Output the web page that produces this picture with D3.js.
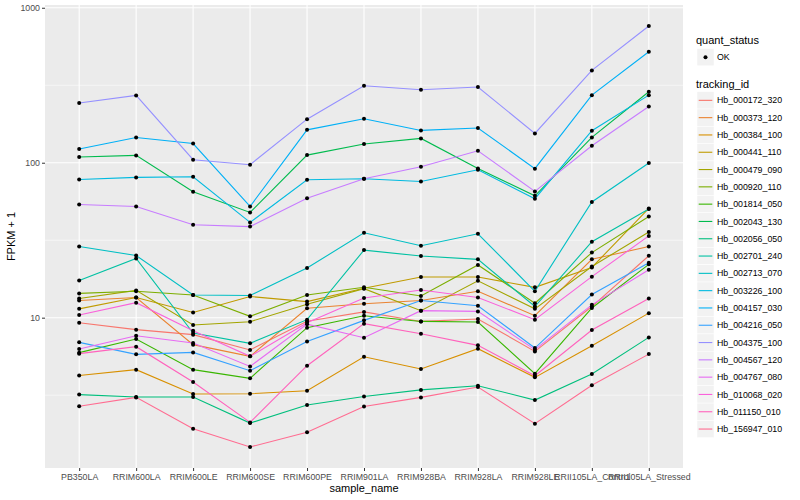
<!DOCTYPE html>
<html>
<head>
<meta charset="utf-8">
<script src="https://cdn.jsdelivr.net/npm/d3@7"></script>
<style>
  body { margin: 0; background: #fff; }
  text { font-family: "Liberation Sans", Arial, sans-serif; }
</style>
</head>
<body>
<div id="chart"></div>
<script>
// samples on the x axis
var samples = ["PB350LA", "RRIM600LA", "RRIM600LE", "RRIM600SE", "RRIM600PE", "RRIM901LA",
    "RRIM928BA", "RRIM928LA", "RRIM928LE", "RRII105LA_Control", "RRII105LA_Stressed"];

var trackingIds = ["Hb_000172_320", "Hb_000373_120", "Hb_000384_100", "Hb_000441_110",
    "Hb_000479_090", "Hb_000920_110", "Hb_001814_050", "Hb_002043_130", "Hb_002056_050",
    "Hb_002701_240", "Hb_002713_070", "Hb_003226_100", "Hb_004157_030", "Hb_004216_050",
    "Hb_004375_100", "Hb_004567_120", "Hb_004767_080", "Hb_010068_020", "Hb_011150_010",
    "Hb_156947_010"];

var quantStatus = ["OK"];

// FPKM + 1, one array per tracking id, in sample order
var hb000172_320 = [9.28, 8.37, 7.77, 6.19, 9.49, 10.9, 9.46, 9.81, 6.06, 11.8, 25.1];
var hb000373_120 = [12.9, 13.5, 6.70, 5.63, 11.5, 12.3, 12.9, 14.8, 10.3, 23.8, 28.8];
var hb000384_100 = [4.24, 4.62, 3.22, 3.23, 3.38, 5.60, 4.67, 6.31, 4.12, 6.60, 10.7];
var hb000441_110 = [11.4, 13.5, 10.8, 13.7, 12.7, 15.5, 18.3, 18.3, 15.7, 21.1, 50.7];
var hb000479_090 = [13.3, 15.0, 8.97, 9.42, 12.2, 15.4, 11.1, 17.3, 11.4, 21.4, 35.7];
var hb000920_110 = [14.35, 14.8, 14.0, 10.2, 14.0, 15.7, 13.8, 21.9, 12.4, 26.3, 45.0];
var hb001814_050 = [5.95, 7.29, 4.62, 4.06, 8.62, 10.3, 9.46, 9.38, 4.35, 11.55, 22.1];
var hb002043_130 = [108.8, 111.5, 65.0, 47.8, 112, 132, 143.5, 91.9, 61.2, 145.6, 287];
var hb002056_050 = [3.19, 3.08, 3.08, 2.09, 2.73, 3.10, 3.42, 3.64, 2.94, 4.33, 7.46];
var hb002701_240 = [17.4, 24.1, 7.96, 6.83, 9.71, 27.3, 25.0, 23.8, 11.8, 30.9, 50.3];
var hb002713_070 = [28.8, 25.2, 14.0, 13.9, 20.9, 35.3, 29.1, 34.8, 14.8, 55.8, 99.5];
var hb003226_100 = [78.0, 80.4, 81.2, 41.2, 77.7, 78.8, 75.7, 90.1, 58.6, 160.9, 273];
var hb004157_030 = [122.6, 145.6, 133, 52.2, 163, 192, 161.6, 167.5, 91.5, 273, 520];
var hb004216_050 = [6.93, 5.80, 5.97, 4.55, 7.03, 9.61, 12.9, 11.95, 6.37, 14.1, 22.6];
var hb004375_100 = [243, 272, 104.6, 97.1, 191, 314, 296, 308, 154.5, 394, 762];
var hb004567_120 = [53.8, 52.2, 39.8, 38.7, 58.9, 78.8, 94.2, 119.5, 65.3, 128.7, 230.8];
var hb004767_080 = [6.28, 7.65, 6.87, 4.85, 9.08, 7.43, 11.1, 10.98, 6.22, 12.1, 20.4];
var hb010068_020 = [10.4, 12.5, 8.25, 5.63, 9.28, 13.4, 15.1, 13.5, 9.71, 18.4, 33.7];
var hb011150_010 = [5.86, 6.50, 3.85, 2.11, 4.90, 9.15, 7.88, 6.63, 4.22, 8.33, 13.3];
var hb156947_010 = [2.68, 3.06, 1.92, 1.465, 1.82, 2.67, 3.06, 3.57, 2.07, 3.66, 5.82];

var seriesValues = [hb000172_320, hb000373_120, hb000384_100, hb000441_110, hb000479_090,
    hb000920_110, hb001814_050, hb002043_130, hb002056_050, hb002701_240, hb002713_070,
    hb003226_100, hb004157_030, hb004216_050, hb004375_100, hb004567_120, hb004767_080,
    hb010068_020, hb011150_010, hb156947_010];

var yMajorTicks = [10, 100, 1000];

// ggplot default hue palette for 20 levels
var palette = ["#F8766D", "#EA8331", "#D89000", "#C09B00", "#A3A500", "#7CAE00", "#39B600",
    "#00BB4E", "#00BF7D", "#00C1A3", "#00BFC4", "#00BAE0", "#00B0F6", "#35A2FF", "#9590FF",
    "#C77CFF", "#E76BF3", "#FA62DB", "#FF62BC", "#FF6C91"];

var width = 800, height = 500;
var panel = { left: 45, right: 683, top: 5, bottom: 468 };

var svg = d3.select("#chart").append("svg")
    .attr("width", width)
    .attr("height", height);

svg.append("rect")
    .attr("width", width)
    .attr("height", height)
    .attr("fill", "#ffffff");

// x: discrete, 0.6 step padding on each side like ggplot
var x = d3.scalePoint()
    .domain(samples)
    .range([panel.left, panel.right])
    .padding(0.6);

// y: log10 with 5% expansion of the data range
var allValues = d3.merge(seriesValues);
var lo = Math.log10(d3.min(allValues)), hi = Math.log10(d3.max(allValues));
var pad = (hi - lo) * 0.05;
var y = d3.scaleLog()
    .domain([Math.pow(10, lo - pad), Math.pow(10, hi + pad)])
    .range([panel.bottom, panel.top]);

// panel background
svg.append("rect")
    .attr("x", panel.left)
    .attr("y", panel.top)
    .attr("width", panel.right - panel.left)
    .attr("height", panel.bottom - panel.top)
    .attr("fill", "#EBEBEB");

// minor grid at half decades
var yMinor = [Math.sqrt(10), Math.sqrt(1000), Math.sqrt(100000)]
    .filter(function(v) { return v > y.domain()[0] && v < y.domain()[1]; });

svg.selectAll(".minor")
    .data(yMinor)
    .enter()
    .append("line")
    .attr("class", "minor")
    .attr("x1", panel.left)
    .attr("x2", panel.right)
    .attr("y1", function(d) { return y(d); })
    .attr("y2", function(d) { return y(d); })
    .attr("stroke", "#ffffff")
    .attr("stroke-width", 0.55);

svg.selectAll(".ymajor")
    .data(yMajorTicks)
    .enter()
    .append("line")
    .attr("class", "ymajor")
    .attr("x1", panel.left)
    .attr("x2", panel.right)
    .attr("y1", function(d) { return y(d); })
    .attr("y2", function(d) { return y(d); })
    .attr("stroke", "#ffffff")
    .attr("stroke-width", 1.1);

svg.selectAll(".xmajor")
    .data(samples)
    .enter()
    .append("line")
    .attr("class", "xmajor")
    .attr("x1", function(d) { return x(d); })
    .attr("x2", function(d) { return x(d); })
    .attr("y1", panel.top)
    .attr("y2", panel.bottom)
    .attr("stroke", "#ffffff")
    .attr("stroke-width", 1.1);

// lines
var line = d3.line()
    .x(function(d, i) { return x(samples[i]); })
    .y(function(d) { return y(d); });

svg.selectAll(".series")
    .data(seriesValues)
    .enter()
    .append("path")
    .attr("class", "series")
    .attr("d", line)
    .attr("fill", "none")
    .attr("stroke", function(d, i) { return palette[i]; })
    .attr("stroke-width", 1.1);

// points
seriesValues.forEach(function(vals) {
    svg.selectAll(null)
        .data(vals)
        .enter()
        .append("circle")
        .attr("cx", function(d, i) { return x(samples[i]); })
        .attr("cy", function(d) { return y(d); })
        .attr("r", 2)
        .attr("fill", "#000000");
});

// axes
var yAxis = svg.append("g")
    .attr("transform", "translate(" + panel.left + ",0)")
    .call(d3.axisLeft(y).tickValues(yMajorTicks).tickFormat(d3.format("d")).tickSize(3).tickPadding(2));

var xAxis = svg.append("g")
    .attr("transform", "translate(0," + panel.bottom + ")")
    .call(d3.axisBottom(x).tickSize(3).tickPadding(3));

[xAxis, yAxis].forEach(function(g) {
    g.select(".domain").remove();
    g.selectAll(".tick line").attr("stroke", "#333333").attr("stroke-width", 1);
    g.selectAll(".tick text")
        .attr("fill", "#4D4D4D")
        .style("font-size", "8.8px")
        .style("font-family", "'Liberation Sans', Arial, sans-serif");
});

svg.append("text")
    .attr("x", (panel.left + panel.right) / 2)
    .attr("y", 492)
    .attr("text-anchor", "middle")
    .style("font-size", "11px")
    .text("sample_name");

svg.append("text")
    .attr("transform", "translate(15," + ((panel.top + panel.bottom) / 2) + ") rotate(-90)")
    .attr("text-anchor", "middle")
    .style("font-size", "11px")
    .text("FPKM + 1");

// legends
var lg = svg.append("g").attr("transform", "translate(696,0)");

lg.append("text")
    .attr("x", 0)
    .attr("y", 44)
    .style("font-size", "11px")
    .text("quant_status");

lg.selectAll(".qkey")
    .data(quantStatus)
    .enter()
    .append("rect")
    .attr("class", "qkey")
    .attr("x", 1)
    .attr("y", function(d, i) { return 48.5 + i * 17.3; })
    .attr("width", 17)
    .attr("height", 17.3)
    .attr("fill", "#F2F2F2")
    .attr("stroke", "#ffffff")
    .attr("stroke-width", 0.5);

lg.selectAll(".qdot")
    .data(quantStatus)
    .enter()
    .append("circle")
    .attr("cx", 9.5)
    .attr("cy", function(d, i) { return 57.2 + i * 17.3; })
    .attr("r", 2)
    .attr("fill", "#000000");

lg.selectAll(".qlab")
    .data(quantStatus)
    .enter()
    .append("text")
    .attr("x", 21)
    .attr("y", function(d, i) { return 60.3 + i * 17.3; })
    .style("font-size", "8.8px")
    .text(function(d) { return d; });

lg.append("text")
    .attr("x", 0)
    .attr("y", 88)
    .style("font-size", "11px")
    .text("tracking_id");

var keyTop = 91.7, keyH = 17.3;

lg.selectAll(".tkey")
    .data(trackingIds)
    .enter()
    .append("rect")
    .attr("class", "tkey")
    .attr("x", 1)
    .attr("y", function(d, i) { return keyTop + i * keyH; })
    .attr("width", 17)
    .attr("height", keyH)
    .attr("fill", "#F2F2F2")
    .attr("stroke", "#ffffff")
    .attr("stroke-width", 0.5);

lg.selectAll(".tline")
    .data(trackingIds)
    .enter()
    .append("line")
    .attr("class", "tline")
    .attr("x1", 2.7)
    .attr("x2", 16.3)
    .attr("y1", function(d, i) { return keyTop + i * keyH + keyH / 2; })
    .attr("y2", function(d, i) { return keyTop + i * keyH + keyH / 2; })
    .attr("stroke", function(d, i) { return palette[i]; })
    .attr("stroke-width", 1.1);

lg.selectAll(".tlab")
    .data(trackingIds)
    .enter()
    .append("text")
    .attr("class", "tlab")
    .attr("x", 21)
    .attr("y", function(d, i) { return keyTop + i * keyH + keyH / 2 + 3.1; })
    .style("font-size", "8.8px")
    .text(function(d) { return d; });
</script>
</body>
</html>
